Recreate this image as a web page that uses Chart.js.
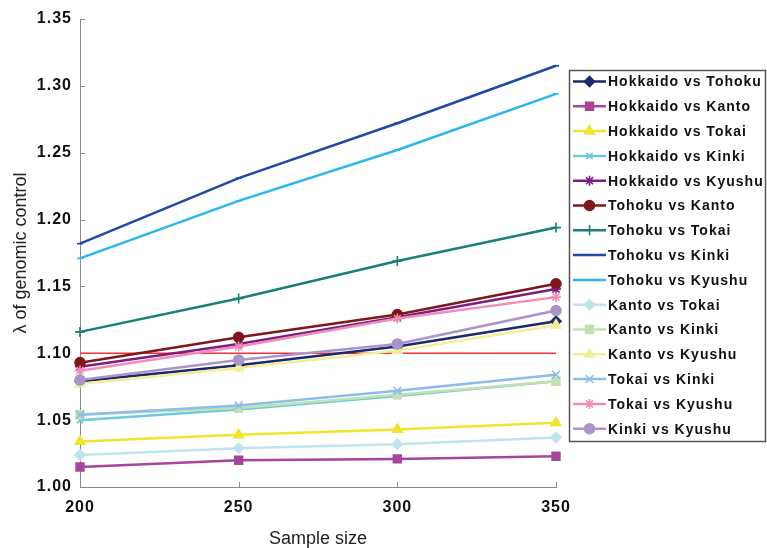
<!DOCTYPE html>
<html lang="en">
<head>
<meta charset="UTF-8">
<title>λ of genomic control</title>
<script src="https://cdn.jsdelivr.net/npm/chart.js"></script>
<style>
  html, body { margin: 0; padding: 0; background: #fff; }
  .chart-container { width: 767px; height: 548px; position: relative; }
</style>
</head>
<body>
<div class="chart-container"><canvas id="lambdaChart"></canvas></div>
<script>
// sample sizes on the x axis, lambda ticks on the y axis
const sampleSizes = ['200', '250', '300', '350'];
const yTickValues = [1.00, 1.05, 1.10, 1.15, 1.20, 1.25, 1.30, 1.35];
const threshold = 1.10;

const pairNames = [
  'Hokkaido vs Tohoku', 'Hokkaido vs Kanto', 'Hokkaido vs Tokai', 'Hokkaido vs Kinki', 'Hokkaido vs Kyushu',
  'Tohoku vs Kanto', 'Tohoku vs Tokai', 'Tohoku vs Kinki', 'Tohoku vs Kyushu',
  'Kanto vs Tokai', 'Kanto vs Kinki', 'Kanto vs Kyushu',
  'Tokai vs Kinki', 'Tokai vs Kyushu', 'Kinki vs Kyushu'
];

const hokkaidoTohoku = [1.079, 1.091, 1.105, 1.124];
const hokkaidoKanto  = [1.015, 1.020, 1.021, 1.023];
const hokkaidoTokai  = [1.034, 1.039, 1.043, 1.048];
const hokkaidoKinki  = [1.050, 1.058, 1.068, 1.079];
const hokkaidoKyushu = [1.090, 1.107, 1.127, 1.148];
const tohokuKanto    = [1.093, 1.112, 1.129, 1.152];
const tohokuTokai    = [1.116, 1.141, 1.169, 1.194];
const tohokuKinki    = [1.182, 1.231, 1.272, 1.315];
const tohokuKyushu   = [1.171, 1.214, 1.252, 1.294];
const kantoTokai     = [1.024, 1.029, 1.032, 1.037];
const kantoKinki     = [1.054, 1.059, 1.069, 1.079];
const kantoKyushu    = [1.077, 1.089, 1.102, 1.121];
const tokaiKinki     = [1.054, 1.061, 1.072, 1.084];
const tokaiKyushu    = [1.087, 1.105, 1.126, 1.142];
const kinkiKyushu    = [1.080, 1.095, 1.107, 1.132];

const seriesValues = [
  hokkaidoTohoku, hokkaidoKanto, hokkaidoTokai, hokkaidoKinki, hokkaidoKyushu,
  tohokuKanto, tohokuTokai, tohokuKinki, tohokuKyushu,
  kantoTokai, kantoKinki, kantoKyushu,
  tokaiKinki, tokaiKyushu, kinkiKyushu
];

// marker look for each series (Excel-like)
const styles = [
  { color: '#1c2a6c', point: 'rectRot',  r: 5 },
  { color: '#a6459b', point: 'rect',     r: 5.5 },
  { color: '#f0e52b', point: 'triangle', r: 5.5 },
  { color: '#6ccbdc', point: 'crossRot', r: 4.5 },
  { color: '#7a1f80', point: 'star',     r: 5 },
  { color: '#7f161a', point: 'circle',   r: 5 },
  { color: '#168079', point: 'cross',    r: 5 },
  { color: '#2148a8', point: 'line',     r: 3 },
  { color: '#2cb6ee', point: 'line',     r: 3 },
  { color: '#bee4ec', point: 'rectRot',  r: 5 },
  { color: '#c4e0b1', point: 'rect',     r: 5.5 },
  { color: '#f4ee98', point: 'triangle', r: 5.5 },
  { color: '#8cbceb', point: 'crossRot', r: 5.5 },
  { color: '#f08db8', point: 'star',     r: 5 },
  { color: '#ab93cc', point: 'circle',   r: 5 }
];

const FONT = '"Liberation Sans", Arial, Helvetica, sans-serif';

const datasets = seriesValues.map((vals, i) => ({
  label: pairNames[i],
  data: vals,
  borderColor: styles[i].color,
  backgroundColor: styles[i].color,
  borderWidth: 2.5,
  pointStyle: styles[i].point,
  pointRadius: styles[i].r,
  pointHoverRadius: styles[i].r,
  pointBorderWidth: 1.6,
  pointBorderColor: styles[i].color,
  pointBackgroundColor: styles[i].color,
  tension: 0,
  clip: false,
  order: -i
}));

datasets.push({
  label: 'threshold',
  data: sampleSizes.map(() => threshold),
  borderColor: '#ec3238',
  borderWidth: 1.6,
  pointRadius: 0,
  clip: false,
  order: 100
});

// letter-spaced bold tick labels
const spacedLabels = {
  id: 'spacedLabels',
  beforeDraw(chart) {
    Object.values(chart.scales).forEach(scale => {
      if (scale._spaced) return;
      const orig = scale.drawLabels;
      scale.drawLabels = function (area) {
        chart.ctx.save();
        chart.ctx.letterSpacing = '1px';
        orig.call(this, area);
        chart.ctx.restore();
      };
      scale._spaced = true;
    });
  }
};

// small inward tick marks on both axes
const innerTicks = {
  id: 'innerTicks',
  beforeDatasetsDraw(chart) {
    const { ctx, chartArea, scales } = chart;
    ctx.save();
    ctx.strokeStyle = '#8a8a8a';
    ctx.lineWidth = 1;
    ctx.beginPath();
    sampleSizes.forEach((s, i) => {
      if (i === 0) return;
      const x = Math.round(scales.x.getPixelForValue(i)) + 0.5;
      ctx.moveTo(x, chartArea.bottom);
      ctx.lineTo(x, chartArea.bottom - 5);
    });
    yTickValues.forEach((v, i) => {
      if (i === 0) return;
      const y = Math.round(scales.y.getPixelForValue(v)) + 0.5;
      ctx.moveTo(chartArea.left, y);
      ctx.lineTo(chartArea.left + 5, y);
    });
    ctx.stroke();
    ctx.restore();
  }
};

// boxed legend to the right of the plot
const boxLegend = {
  id: 'boxLegend',
  afterDraw(chart) {
    const ctx = chart.ctx;
    const left = 569.5, top = 70.5, right = 765.5, bottom = 441.5;
    ctx.save();
    ctx.fillStyle = '#fff';
    ctx.fillRect(left, top, right - left, bottom - top);
    ctx.strokeStyle = '#555';
    ctx.lineWidth = 1.5;
    ctx.strokeRect(left, top, right - left, bottom - top);
    ctx.font = 'bold 14px ' + FONT;
    ctx.textBaseline = 'middle';
    ctx.letterSpacing = '1px';
    pairNames.forEach((name, i) => {
      const y = 81.5 + i * 24.8;
      const st = styles[i];
      ctx.strokeStyle = st.color;
      ctx.fillStyle = st.color;
      ctx.lineWidth = 2.5;
      ctx.beginPath();
      ctx.moveTo(573, y);
      ctx.lineTo(606, y);
      ctx.stroke();
      ctx.lineWidth = 1.6;
      if (Chart.helpers && Chart.helpers.drawPoint) {
        Chart.helpers.drawPoint(ctx, { pointStyle: st.point, radius: st.r, rotation: 0, borderWidth: 1.6 }, 589.5, y);
      }
      ctx.fillStyle = '#111';
      ctx.fillText(name, 608, y + 1);
    });
    ctx.restore();
  }
};

const ctx = document.getElementById('lambdaChart').getContext('2d');
new Chart(ctx, {
  type: 'line',
  data: { labels: sampleSizes, datasets: datasets },
  options: {
    responsive: true,
    maintainAspectRatio: false,
    animation: false,
    events: [],
    layout: { padding: { top: 19, right: 211, bottom: 0, left: 0 } },
    plugins: { legend: { display: false }, tooltip: { enabled: false } },
    scales: {
      x: {
        offset: false,
        grid: { display: false, drawTicks: false },
        border: { display: true, color: '#8a8a8a', width: 1 },
        ticks: {
          color: '#111', padding: 11, maxRotation: 0, autoSkip: false,
          font: { family: FONT, size: 16, weight: 'bold' }
        },
        title: {
          display: true, text: 'Sample size', color: '#222',
          font: { family: FONT, size: 18, lineHeight: 1 },
          padding: { top: 0, bottom: 0 }
        },
        afterFit(scale) { scale.height = 61; }
      },
      y: {
        min: 1.00,
        max: 1.35,
        grid: { display: false, drawTicks: false },
        border: { display: true, color: '#8a8a8a', width: 1 },
        afterBuildTicks(scale) { scale.ticks = yTickValues.map(v => ({ value: v })); },
        ticks: {
          color: '#111', padding: 8,
          font: { family: FONT, size: 16, weight: 'bold' },
          callback: v => Number(v).toFixed(2)
        },
        title: {
          display: true, text: 'λ of genomic control', color: '#222',
          font: { family: FONT, size: 18, lineHeight: 1.2 },
          padding: { top: 10, bottom: 0 }
        },
        afterFit(scale) { scale.width = 80; }
      }
    }
  },
  plugins: [spacedLabels, innerTicks, boxLegend]
});
</script>
</body>
</html>
